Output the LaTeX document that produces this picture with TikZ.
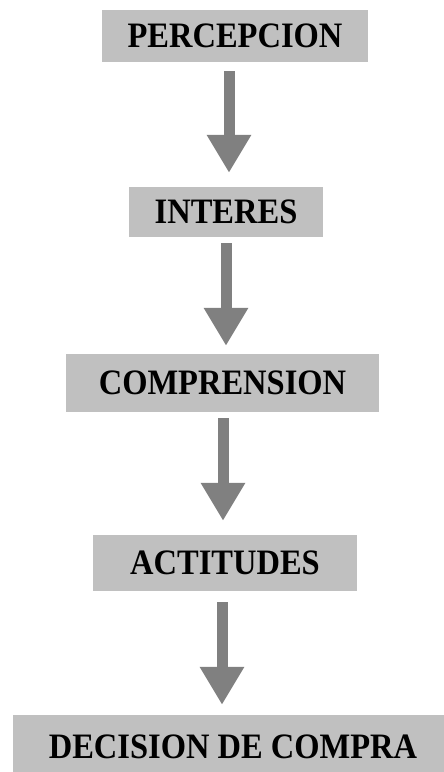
\documentclass[tikz,border=0pt]{standalone}
\usepackage{fontspec}
\setmainfont{Liberation Serif}
\usetikzlibrary{arrows.meta}
\definecolor{boxgray}{RGB}{192,192,192}
\definecolor{arrowgray}{RGB}{128,128,128}
\newcommand{\tallt}[1]{\scalebox{1}[1.1]{#1}}
\begin{document}
\begin{tikzpicture}[x=1pt,y=1pt,
  stage/.style={fill=boxgray, inner sep=0pt, font=\fontsize{32.5}{36}\selectfont\bfseries},
  flow/.style={draw=arrowgray, line width=11pt, -{Triangle[width=42pt,length=38pt]}, arrowgray}]
\useasboundingbox (0,0) rectangle (444,772);
\fill[white] (0,0) rectangle (444,772);
\node[stage, minimum width=266pt, minimum height=52pt] (p) at (235,736) {\tallt{PERCEPCION}};
\node[stage, minimum width=194pt, minimum height=50pt] (i) at (226,560) {\tallt{INTERES}};
\node[stage, minimum width=313pt, minimum height=58pt] (c) at (222.5,389) {\tallt{COMPRENSION}};
\node[stage, minimum width=264pt, minimum height=56pt] (a) at (225,209) {\tallt{ACTITUDES}};
\node[stage, minimum width=440pt, minimum height=64pt] (d) at (233,25) {\tallt{DECISION DE COMPRA}};
\draw[flow] ([xshift=-6pt,yshift=-9pt]p.south) -- ([xshift=3pt,yshift=14pt]i.north);
\draw[flow] ([yshift=-6pt]i.south) -- ([xshift=3.5pt,yshift=8pt]c.north);
\draw[flow] ([xshift=0.5pt,yshift=-6pt]c.south) -- ([xshift=-2pt,yshift=14pt]a.north);
\draw[flow] ([xshift=-3pt,yshift=-11pt]a.south) -- ([xshift=-11pt,yshift=10pt]d.north);
\end{tikzpicture}
\end{document}
